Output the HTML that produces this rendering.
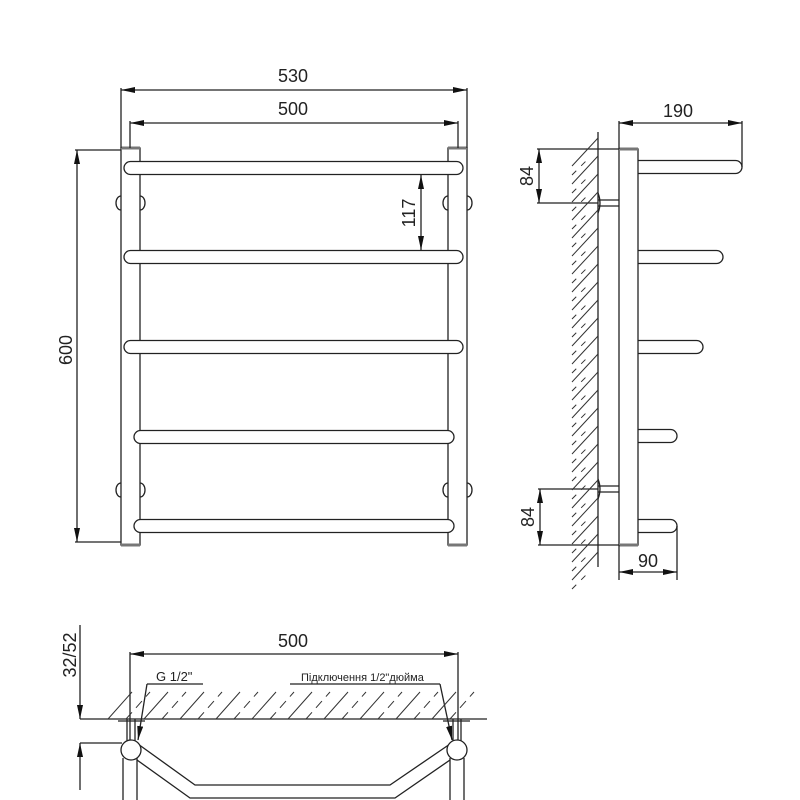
<!DOCTYPE html>
<html><head><meta charset="utf-8"><style>
html,body{margin:0;padding:0;background:#fff;}
svg{display:block}
text{font-family:"Liberation Sans",sans-serif;fill:#222}
</style></head><body>
<svg id="s" width="800" height="800" viewBox="0 0 800 800" xmlns="http://www.w3.org/2000/svg">
<defs>
<marker id="a" viewBox="0 0 14 6" refX="14" refY="3" markerWidth="14" markerHeight="6" markerUnits="userSpaceOnUse" orient="auto-start-reverse"><path d="M0,0 L14,3 L0,6 z" fill="#111"/></marker>
</defs>
<g stroke="#222" stroke-width="1.3" fill="none">
<rect x="121" y="148" width="19" height="397" fill="#fff"/>
<rect x="448" y="148" width="19" height="397" fill="#fff"/>
<line x1="121" y1="148" x2="140" y2="148" stroke="#777" stroke-width="3"/>
<line x1="121" y1="545" x2="140" y2="545" stroke="#777" stroke-width="3"/>
<line x1="448" y1="148" x2="467" y2="148" stroke="#777" stroke-width="3"/>
<line x1="448" y1="545" x2="467" y2="545" stroke="#777" stroke-width="3"/>
<path d="M121,196 A5,7 0 0 0 121,210"/><path d="M140,196 A5,7 0 0 1 140,210"/>
<path d="M448,196 A5,7 0 0 0 448,210"/><path d="M467,196 A5,7 0 0 1 467,210"/>
<path d="M121,483 A5,7 0 0 0 121,497"/><path d="M140,483 A5,7 0 0 1 140,497"/>
<path d="M448,483 A5,7 0 0 0 448,497"/><path d="M467,483 A5,7 0 0 1 467,497"/>
<rect x="124" y="161.5" width="339" height="13" rx="6.5" fill="#fff"/>
<rect x="124" y="250.5" width="339" height="13" rx="6.5" fill="#fff"/>
<rect x="124" y="340.5" width="339" height="13" rx="6.5" fill="#fff"/>
<rect x="134" y="430.5" width="320" height="13" rx="6.5" fill="#fff"/>
<rect x="134" y="519.5" width="320" height="13" rx="6.5" fill="#fff"/>
<line x1="121" y1="88" x2="121" y2="148"/><line x1="467" y1="88" x2="467" y2="148"/>
<line x1="121" y1="90" x2="467" y2="90" marker-start="url(#a)" marker-end="url(#a)"/>
<line x1="130" y1="121" x2="130" y2="148"/><line x1="458" y1="121" x2="458" y2="148"/>
<line x1="130" y1="123" x2="458" y2="123" marker-start="url(#a)" marker-end="url(#a)"/>
<line x1="75" y1="150" x2="121" y2="150"/><line x1="75" y1="542" x2="121" y2="542"/>
<line x1="77" y1="150" x2="77" y2="542" marker-start="url(#a)" marker-end="url(#a)"/>
<line x1="421" y1="175" x2="421" y2="250" marker-start="url(#a)" marker-end="url(#a)"/>

<line x1="598" y1="132" x2="598" y2="567"/>
<rect x="619" y="149" width="19" height="396" fill="#fff"/>
<line x1="619" y1="149" x2="638" y2="149" stroke="#777" stroke-width="3"/>
<line x1="619" y1="545" x2="638" y2="545" stroke="#777" stroke-width="3"/>
<path d="M638,160.5 H735.5 A6.5,6.5 0 0 1 735.5,173.5 H638"/>
<path d="M638,250.5 H716.5 A6.5,6.5 0 0 1 716.5,263.5 H638"/>
<path d="M638,340.5 H696.5 A6.5,6.5 0 0 1 696.5,353.5 H638"/>
<path d="M638,429.5 H670.5 A6.5,6.5 0 0 1 670.5,442.5 H638"/>
<path d="M638,519.5 H670.5 A6.5,6.5 0 0 1 670.5,532.5 H638"/>
<line x1="598" y1="200" x2="619" y2="200"/><line x1="598" y1="206" x2="619" y2="206"/>
<path d="M598,193 q4,10 0,20"/>
<line x1="598" y1="486" x2="619" y2="486"/><line x1="598" y1="492" x2="619" y2="492"/>
<path d="M598,479 q4,10 0,20"/>
<line x1="537" y1="149" x2="619" y2="149"/><line x1="537" y1="203" x2="598" y2="203"/>
<line x1="539" y1="149" x2="539" y2="203" marker-start="url(#a)" marker-end="url(#a)"/>
<line x1="538" y1="489" x2="598" y2="489"/><line x1="538" y1="545" x2="619" y2="545"/>
<line x1="540" y1="489" x2="540" y2="545" marker-start="url(#a)" marker-end="url(#a)"/>
<line x1="619" y1="121" x2="619" y2="149"/><line x1="742" y1="121" x2="742" y2="167"/>
<line x1="619" y1="123" x2="742" y2="123" marker-start="url(#a)" marker-end="url(#a)"/>
<line x1="619" y1="545" x2="619" y2="580"/><line x1="677" y1="526" x2="677" y2="580"/>
<line x1="619" y1="572" x2="677" y2="572" marker-start="url(#a)" marker-end="url(#a)"/>

<line x1="80" y1="719" x2="487" y2="719"/>
<line x1="118" y1="721" x2="145" y2="721"/><line x1="443" y1="721" x2="470" y2="721"/>
<line x1="130" y1="652" x2="130" y2="740"/><line x1="458" y1="652" x2="458" y2="740"/>
<line x1="130" y1="654" x2="458" y2="654" marker-start="url(#a)" marker-end="url(#a)"/>
<line x1="127" y1="719" x2="127" y2="741"/><line x1="135" y1="719" x2="135" y2="741"/>
<line x1="453" y1="719" x2="453" y2="741"/><line x1="461" y1="719" x2="461" y2="741"/>
<line x1="123" y1="758" x2="123" y2="800"/><line x1="137" y1="758" x2="137" y2="800"/>
<line x1="450" y1="758" x2="450" y2="800"/><line x1="464" y1="758" x2="464" y2="800"/>
<path d="M138,744 L195,785 H390 L450,744"/>
<path d="M137,760 L190,798 H395 L450,760"/>
<circle cx="131" cy="750" r="10" fill="#fff"/>
<circle cx="457" cy="750" r="10" fill="#fff"/>
<path d="M147,684 H203"/><line x1="147" y1="684" x2="138" y2="740" marker-end="url(#a)"/>
<path d="M290,684 H440"/><line x1="440" y1="684" x2="452" y2="740" marker-end="url(#a)"/>
<line x1="80" y1="625" x2="80" y2="719" marker-end="url(#a)"/>
<line x1="80" y1="790" x2="80" y2="743" marker-end="url(#a)"/>
<line x1="80" y1="743" x2="122" y2="743"/>
<g id="h1" stroke-width="1" stroke="#333"></g>
<g id="h2" stroke-width="1" stroke="#333"></g>
</g>
<g font-size="18">
<text x="293" y="82" text-anchor="middle">530</text>
<text x="293" y="115" text-anchor="middle">500</text>
<text transform="translate(72,350) rotate(-90)" text-anchor="middle">600</text>
<text transform="translate(415,213) rotate(-90)" text-anchor="middle">117</text>
<text x="678" y="117" text-anchor="middle">190</text>
<text transform="translate(533,176) rotate(-90)" text-anchor="middle">84</text>
<text transform="translate(534,517) rotate(-90)" text-anchor="middle">84</text>
<text x="648" y="567" text-anchor="middle">90</text>
<text x="293" y="647" text-anchor="middle">500</text>
<text transform="translate(76,655) rotate(-90)" text-anchor="middle">32/52</text>
</g>
<text x="156" y="681" font-size="13">G 1/2"</text>
<text x="301" y="681" font-size="11">Підключення 1/2"дюйма</text>
</svg>
<script>
var ns="http://www.w3.org/2000/svg";
function L(g,x1,y1,x2,y2,d){var l=document.createElementNS(ns,"line");l.setAttribute("x1",x1);l.setAttribute("y1",y1);l.setAttribute("x2",x2);l.setAttribute("y2",y2);if(d)l.setAttribute("stroke-dasharray",d);g.appendChild(l);}
var h1=document.getElementById("h1"),h2=document.getElementById("h2");
for(var y=138;y<566;y+=18){L(h1,572,y+28,598,y);L(h1,572,y+37,588,y+21,"6,7");}
var i=0;
for(var x=108;x<462;x+=18){L(h2,x,719,x+24,692,(i%2==0)?"":"9,6");i++;}
</script>
</body></html>
